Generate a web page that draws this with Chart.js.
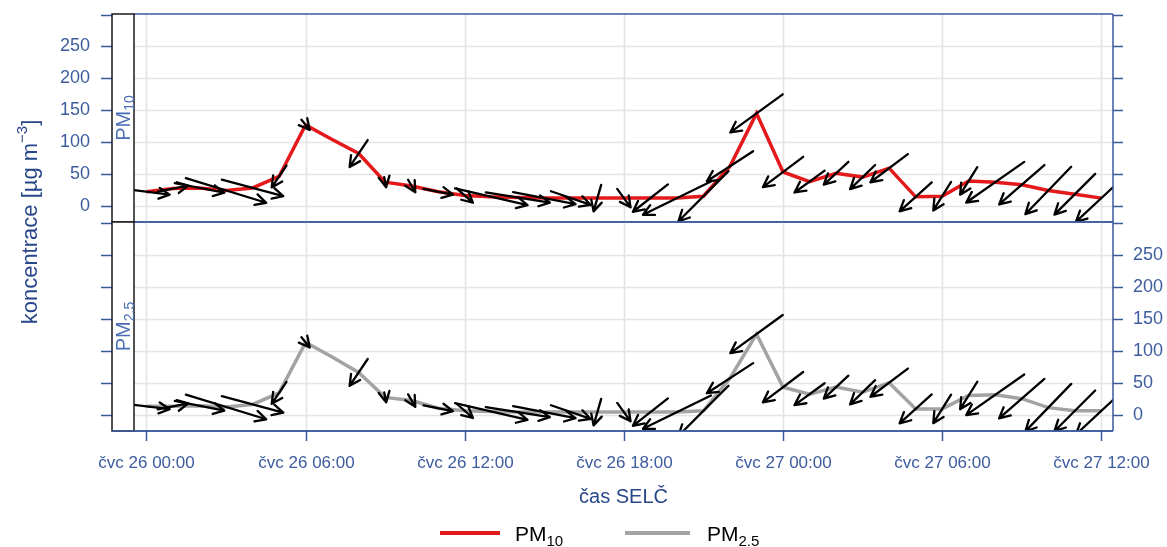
<!DOCTYPE html>
<html>
<head>
<meta charset="utf-8">
<script src="https://cdn.jsdelivr.net/npm/chart.js@4/dist/chart.umd.min.js"></script>
<style>
  html, body { margin: 0; padding: 0; background: #ffffff; }
  #wrap { position: relative; width: 1167px; height: 547px; }
  #wrap canvas { position: absolute; left: 0; top: 0; }
</style>
</head>
<body>
<div id="wrap">
  <canvas id="cTop" width="1167" height="547"></canvas>
  <canvas id="cBot" width="1167" height="547"></canvas>
</div>
<script>
// Hourly measurements, 26.–27. července (SELČ)
const times = [
  '26 00:00','26 01:00','26 02:00','26 03:00','26 04:00','26 05:00','26 06:00','26 07:00',
  '26 08:00','26 09:00','26 10:00','26 11:00','26 12:00','26 13:00','26 14:00','26 15:00',
  '26 16:00','26 17:00','26 18:00','26 19:00','26 20:00','26 21:00','26 22:00','26 23:00',
  '27 00:00','27 01:00','27 02:00','27 03:00','27 04:00','27 05:00','27 06:00','27 07:00',
  '27 08:00','27 09:00','27 10:00','27 11:00','27 12:00'
];

// PM10 and PM2.5 concentrations [µg m-3]
const pm10 = [22, 27, 28, 24, 28, 46, 127, 104, 82, 37, 31, 22, 16, 14, 13, 12, 12, 12, 12,
              12, 12, 15, 62, 145, 53, 38, 51, 45, 59, 14, 15, 39, 37, 33, 24, 18, 12];
const pm25 = [13, 13, 14, 12, 16, 34, 113, 90, 66, 27, 22, 10, 6, 5, 4, 4, 4, 4, 4,
              4, 4, 6, 57, 126, 43, 32, 43, 35, 50, 9, 9, 30, 31, 25, 11, 6, 6];

// Wind speed [m/s] and direction the wind blows from [deg]
const windSpeed = [3.9, 2.6, 4.2, 7.0, 5.3, 2.2, 1.1, null, 2.7, 0.85, 1.2, 2.5, 1.8, 6.2, 5.4, 5.3, 3.5, 2.3, 1.9,
                   3.7, 6.3, 5.9, 4.6, 5.4, 4.2, 3.1, 2.8, 2.9, 3.9, 3.6, 2.8, 2.7, 5.9, 5.0, 5.5, 4.8, 5.8];
const windDir = [277, 259, 281, 287, 285, 34, 321, null, 34, 349, 330, 281, 311, 283, 279, 281, 289, 16, 324,
                 52, 64, 45, 57, 54, 53, 54, 47, 46, 53, 48, 32, 32, 55, 49, 44, 45, 47];

// Axis ticks
const xTickLabels = ['čvc 26 00:00','čvc 26 06:00','čvc 26 12:00','čvc 26 18:00',
                     'čvc 27 00:00','čvc 27 06:00','čvc 27 12:00'];
const yTickValues = [0, 50, 100, 150, 200, 250];
const yTickMarks = [0, 50, 100, 150, 200, 250, 300];

function hoursOf(t) {
  const parts = t.trim().split(' ');
  const day = parseInt(parts[parts.length - 2], 10);
  const hm = parts[parts.length - 1].split(':');
  return (day - 26) * 24 + parseInt(hm[0], 10) + parseInt(hm[1], 10) / 60;
}
const hours = times.map(hoursOf);

const FONT = '"Liberation Sans", Arial, sans-serif';
const AXIS_BLUE = '#3a5a9c';
const LABEL_BLUE = '#3d5c9e';
const TITLE_BLUE = '#28468a';
const STRIP_BLUE = '#4a6db5';
const GRID = '#e4e4e4';
const PX_PER_MS = 12;      // arrow length per m/s
const HEAD = 12, HEAD_ANG = 27 * Math.PI / 180;

const X_MIN = -0.47, X_MAX = 36.44;
const Y_MIN = -25.5, Y_MAX = 301;
const STRIP_L = 112, STRIP_R = 134;

// draw text made of runs (normal / subscript / superscript)
function richWidth(ctx, runs) {
  let w = 0;
  runs.forEach(r => { ctx.font = r.size + 'px ' + FONT; w += ctx.measureText(r.t).width; });
  return w;
}
function drawRich(ctx, runs, x, y, align) {
  let w = richWidth(ctx, runs);
  let cx = align === 'center' ? x - w / 2 : x;
  ctx.textAlign = 'left';
  ctx.textBaseline = 'alphabetic';
  runs.forEach(r => {
    ctx.font = r.size + 'px ' + FONT;
    ctx.fillText(r.t, cx, y + (r.dy || 0));
    cx += ctx.measureText(r.t).width;
  });
}

function drawArrow(ctx, x0, y0, x1, y1) {
  const a = Math.atan2(y1 - y0, x1 - x0);
  ctx.beginPath();
  ctx.moveTo(x0, y0);
  ctx.lineTo(x1, y1);
  ctx.moveTo(x1 - HEAD * Math.cos(a - HEAD_ANG), y1 - HEAD * Math.sin(a - HEAD_ANG));
  ctx.lineTo(x1, y1);
  ctx.lineTo(x1 - HEAD * Math.cos(a + HEAD_ANG), y1 - HEAD * Math.sin(a + HEAD_ANG));
  ctx.stroke();
}

function panelPlugin(cfg) {
  return {
    id: 'panel_' + cfg.key,
    beforeDatasetsDraw(chart) {
      const ctx = chart.ctx, a = chart.chartArea;
      const xs = chart.scales.x, ys = chart.scales.y;
      ctx.save();
      ctx.strokeStyle = GRID;
      ctx.lineWidth = 1.6;
      yTickValues.forEach(v => {
        const py = Math.round(ys.getPixelForValue(v)) + 0.5;
        ctx.beginPath(); ctx.moveTo(a.left, py); ctx.lineTo(a.right, py); ctx.stroke();
      });
      xTickLabels.forEach(l => {
        const px = Math.round(xs.getPixelForValue(hoursOf(l))) + 0.5;
        ctx.beginPath(); ctx.moveTo(px, a.top); ctx.lineTo(px, a.bottom); ctx.stroke();
      });
      ctx.restore();
    },
    afterDatasetsDraw(chart) {
      const ctx = chart.ctx, a = chart.chartArea;
      const xs = chart.scales.x, ys = chart.scales.y;
      const values = cfg.values;

      // wind arrows centred on each measurement
      ctx.save();
      ctx.beginPath();
      ctx.rect(a.left, a.top, a.right - a.left, a.bottom - a.top);
      ctx.clip();
      ctx.strokeStyle = '#000000';
      ctx.lineWidth = 2.3;
      ctx.lineCap = 'round';
      ctx.lineJoin = 'round';
      hours.forEach((h, i) => {
        if (windSpeed[i] == null || windDir[i] == null || values[i] == null) return;
        const cx = xs.getPixelForValue(h), cy = ys.getPixelForValue(values[i]);
        const len = windSpeed[i] * PX_PER_MS;
        const to = (windDir[i] + 180) * Math.PI / 180;
        const dx = len * Math.sin(to), dy = -len * Math.cos(to);
        drawArrow(ctx, cx - dx / 2, cy - dy / 2, cx + dx / 2, cy + dy / 2);
      });
      ctx.restore();

      ctx.save();
      // panel frame
      ctx.strokeStyle = AXIS_BLUE;
      ctx.lineWidth = 1.5;
      ctx.beginPath();
      ctx.moveTo(a.left, a.top); ctx.lineTo(a.right, a.top);
      ctx.moveTo(a.left, a.bottom); ctx.lineTo(a.right, a.bottom);
      ctx.moveTo(a.right, a.top); ctx.lineTo(a.right, a.bottom);
      ctx.stroke();

      // y ticks on both sides
      yTickMarks.forEach(v => {
        const py = Math.round(ys.getPixelForValue(v)) + 0.5;
        ctx.beginPath();
        ctx.moveTo(STRIP_L - 11, py); ctx.lineTo(STRIP_L, py);
        ctx.moveTo(a.right, py); ctx.lineTo(a.right + 10, py);
        ctx.stroke();
      });

      // strip with panel name
      ctx.fillStyle = '#ffffff';
      ctx.fillRect(STRIP_L, a.top, STRIP_R - STRIP_L, a.bottom - a.top);
      ctx.strokeStyle = '#1a1a1a';
      ctx.lineWidth = 1.5;
      ctx.strokeRect(STRIP_L, a.top, STRIP_R - STRIP_L, a.bottom - a.top);

      ctx.save();
      ctx.translate(123, (a.top + a.bottom) / 2);
      ctx.rotate(-Math.PI / 2);
      ctx.fillStyle = STRIP_BLUE;
      drawRich(ctx, cfg.stripRuns, 0, 7, 'center');
      ctx.restore();

      // y tick labels
      ctx.fillStyle = LABEL_BLUE;
      ctx.font = '18px ' + FONT;
      ctx.textBaseline = 'middle';
      yTickValues.forEach(v => {
        const py = ys.getPixelForValue(v);
        if (cfg.labelsLeft) { ctx.textAlign = 'right'; ctx.fillText(String(v), 90, py); }
        else { ctx.textAlign = 'left'; ctx.fillText(String(v), a.right + 20, py); }
      });

      if (cfg.bottomAxis) {
        // time axis
        ctx.strokeStyle = AXIS_BLUE;
        ctx.lineWidth = 1.5;
        ctx.beginPath();
        ctx.moveTo(STRIP_L, a.bottom); ctx.lineTo(a.right, a.bottom);
        ctx.stroke();
        ctx.fillStyle = LABEL_BLUE;
        ctx.font = '17px ' + FONT;
        ctx.textAlign = 'center';
        ctx.textBaseline = 'middle';
        xTickLabels.forEach(l => {
          const px = Math.round(xs.getPixelForValue(hoursOf(l))) + 0.5;
          ctx.beginPath(); ctx.moveTo(px, a.bottom); ctx.lineTo(px, a.bottom + 10); ctx.stroke();
          ctx.fillText(l, px, a.bottom + 32);
        });

        // axis titles
        ctx.fillStyle = TITLE_BLUE;
        ctx.font = '20px ' + FONT;
        ctx.fillText('čas SELČ', (a.left + a.right) / 2, 497);

        ctx.save();
        ctx.translate(37, 222);
        ctx.rotate(-Math.PI / 2);
        ctx.fillStyle = TITLE_BLUE;
        drawRich(ctx, [
          { t: 'koncentrace [µg m', size: 22 },
          { t: '−3', size: 15, dy: -10 },
          { t: ']', size: 22 }
        ], 0, 0, 'center');
        ctx.restore();

        // legend
        ctx.lineWidth = 4;
        ctx.strokeStyle = cfg.legend[0].color;
        ctx.beginPath(); ctx.moveTo(440, 533); ctx.lineTo(500, 533); ctx.stroke();
        ctx.strokeStyle = cfg.legend[1].color;
        ctx.beginPath(); ctx.moveTo(625, 533); ctx.lineTo(690, 533); ctx.stroke();
        ctx.fillStyle = '#000000';
        drawRich(ctx, cfg.legend[0].runs, 515, 541, 'left');
        drawRich(ctx, cfg.legend[1].runs, 707, 541, 'left');
      }
      ctx.restore();
    }
  };
}

function makePanel(canvasId, label, values, color, padding, plugin) {
  return new Chart(document.getElementById(canvasId), {
    type: 'line',
    data: {
      datasets: [{
        label: label,
        data: hours.map((h, i) => ({ x: h, y: values[i] })),
        borderColor: color,
        borderWidth: 3.5,
        pointRadius: 0,
        tension: 0,
        fill: false
      }]
    },
    options: {
      responsive: false,
      animation: false,
      devicePixelRatio: 1,
      layout: { padding: padding },
      plugins: { legend: { display: false }, tooltip: { enabled: false } },
      scales: {
        x: { type: 'linear', display: false, min: X_MIN, max: X_MAX },
        y: { type: 'linear', display: false, min: Y_MIN, max: Y_MAX }
      }
    },
    plugins: [plugin]
  });
}

const RED = '#e3191c', GREY = '#a3a3a3';
const legendRuns = [
  { color: RED, runs: [{ t: 'PM', size: 21 }, { t: '10', size: 15, dy: 5 }] },
  { color: GREY, runs: [{ t: 'PM', size: 21 }, { t: '2.5', size: 15, dy: 5 }] }
];

makePanel('cTop', 'PM10', pm10, RED,
  { left: STRIP_R, right: 1167 - 1113, top: 14, bottom: 547 - 222 },
  panelPlugin({ key: 'pm10', values: pm10, labelsLeft: true, bottomAxis: false,
    stripRuns: [{ t: 'PM', size: 20 }, { t: '10', size: 14, dy: 4 }] }));

makePanel('cBot', 'PM2.5', pm25, GREY,
  { left: STRIP_R, right: 1167 - 1113, top: 222, bottom: 547 - 431 },
  panelPlugin({ key: 'pm25', values: pm25, labelsLeft: false, bottomAxis: true, legend: legendRuns,
    stripRuns: [{ t: 'PM', size: 20 }, { t: '2.5', size: 14, dy: 4 }] }));
</script>
</body>
</html>
